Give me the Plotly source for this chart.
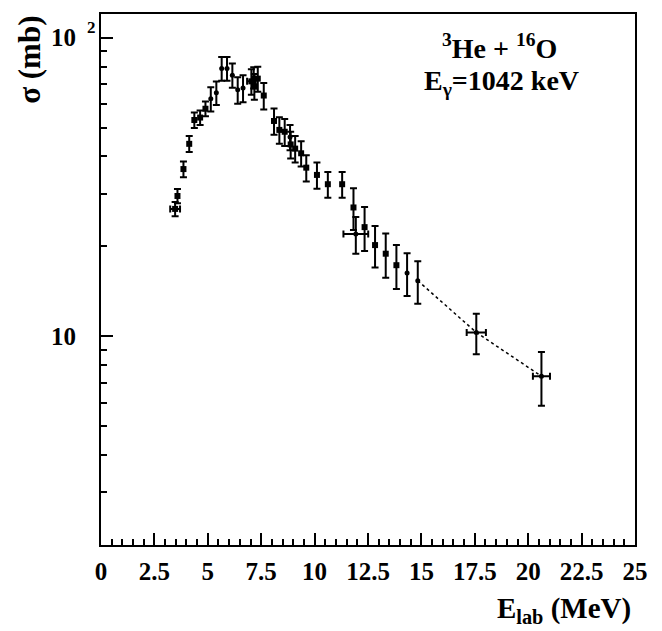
import plotly.graph_objects as go

# ---- data ----
# filled squares, no visible horizontal error
sq_E = [3.58, 3.86, 4.13, 4.37, 4.64, 4.89, 7.18, 7.34, 7.62, 8.10, 8.35, 8.60,
        8.88, 9.09, 9.37, 9.61, 10.11, 10.62, 11.29, 11.82, 12.34, 12.83, 13.33, 13.83]
sq_sigma = [29.5, 36.3, 44.1, 53.0, 54.0, 57.8, 68.7, 72.9, 64.0, 52.6, 49.1, 48.4,
            43.9, 42.5, 41.0, 36.7, 34.7, 32.3, 32.3, 27.0, 23.2, 20.2, 18.9, 17.3]
sq_err = [1.6, 2.2, 2.7, 3.2, 3.0, 3.3, 6.8, 7.0, 6.5, 5.3, 5.0, 5.0,
          4.5, 4.3, 4.0, 3.7, 3.5, 3.2, 3.2, 4.3, 3.9, 3.2, 3.2, 2.9]

# filled squares with horizontal error
sqx_E = [3.47, 7.04]
sqx_sigma = [26.7, 71.4]
sqx_err = [1.45, 7.0]
sqx_xerr = [0.23, 0.20]

# small dots, no visible horizontal error
dot_E = [5.14, 5.40, 5.65, 5.90, 6.15, 6.40, 6.65, 7.15, 8.85, 14.33, 14.83]
dot_sigma = [62.4, 65.4, 78.9, 78.9, 74.9, 66.9, 67.8, 73.6, 46.5, 16.3, 15.35]
dot_err = [5.8, 5.9, 7.2, 7.2, 7.0, 6.8, 7.0, 6.0, 4.5, 2.65, 2.5]

# small dots with horizontal error
dotx_E = [11.93, 17.57, 20.62]
dotx_sigma = [22.0, 10.3, 7.35]
dotx_err = [3.1, 1.6, 1.5]
dotx_xerr = [0.58, 0.45, 0.40]

x_tickvals = [0, 2.5, 5, 7.5, 10, 12.5, 15, 17.5, 20, 22.5, 25]
x_ticktext = ["0", "2.5", "5", "7.5", "10", "12.5", "15", "17.5", "20", "22.5", "25"]
y_tickvals = [10, 100]
y_ticktext = ["10", "10"]
y_minor = [3, 4, 5, 6, 7, 8, 9, 20, 30, 40, 50, 60, 70, 80, 90]

# dotted trend through the last three points
trend_E = [dot_E[-1]] + dotx_E[1:]
trend_sigma = [dot_sigma[-1]] + dotx_sigma[1:]

FONT = "Liberation Serif"
OFF = 8  # page body margin
W, H = 654, 623
L, R, T, B = 93, 27, 4, 86
pw, ph = W - L - R, H - T - B


def px(xp):
    return (xp - OFF - L) / pw


def py(yp):
    return (OFF + T + ph - yp) / ph


fig = go.Figure()
fig.add_trace(go.Scatter(x=trend_E, y=trend_sigma, mode="lines",
                         line=dict(color="black", width=1.5, dash="dot"),
                         hoverinfo="skip", showlegend=False))

eb = dict(type="data", color="black", thickness=2, width=3.5)

fig.add_trace(go.Scatter(x=sq_E, y=sq_sigma, mode="markers",
                         marker=dict(symbol="square", size=6, color="black"),
                         error_y=dict(array=sq_err, **eb), showlegend=False))
fig.add_trace(go.Scatter(x=sqx_E, y=sqx_sigma, mode="markers",
                         marker=dict(symbol="square", size=6, color="black"),
                         error_y=dict(array=sqx_err, **eb),
                         error_x=dict(array=sqx_xerr, **eb), showlegend=False))
fig.add_trace(go.Scatter(x=dot_E, y=dot_sigma, mode="markers",
                         marker=dict(symbol="circle", size=5, color="black"),
                         error_y=dict(array=dot_err, **eb), showlegend=False))
fig.add_trace(go.Scatter(x=dotx_E, y=dotx_sigma, mode="markers",
                         marker=dict(symbol="circle", size=5, color="black"),
                         error_y=dict(array=dotx_err, **eb),
                         error_x=dict(array=dotx_xerr, **eb), showlegend=False))

tickfont = dict(family=FONT, size=25, color="black", weight="bold")

fig.update_layout(
    width=W, height=H,
    margin=dict(l=L, r=R, t=T, b=B, pad=0),
    paper_bgcolor="white", plot_bgcolor="white",
    font=dict(family=FONT, color="black"),
    xaxis=dict(range=[0, 25], tickmode="array", tickvals=x_tickvals,
               ticktext=["<b>%s</b>" % t for t in x_ticktext],
               ticks="inside", ticklen=12, tickwidth=1.5, tickcolor="black",
               minor=dict(dtick=0.5, tick0=0, ticks="inside", ticklen=6, tickwidth=1.5, tickcolor="black"),
               showline=True, linecolor="black", linewidth=2, mirror=True,
               showgrid=False, zeroline=False, tickfont=tickfont, ticklabelstandoff=3),
    yaxis=dict(type="log", range=[0.30103, 2.0792], tickmode="array",
               tickvals=y_tickvals, ticktext=["<b>%s</b>" % t for t in y_ticktext],
               ticks="inside", ticklen=12, tickwidth=1.5, tickcolor="black",
               minor=dict(tickmode="array", tickvals=y_minor, ticks="inside", ticklen=6,
                          tickwidth=1.5, tickcolor="black"),
               showline=True, linecolor="black", linewidth=2, mirror=True,
               showgrid=False, zeroline=False, tickfont=tickfont, ticklabelstandoff=18),
)

bold = dict(family=FONT, color="black", weight="bold")
fig.add_annotation(text="2", xref="paper", yref="paper", x=px(91), y=py(26),
                   showarrow=False, xanchor="center", yanchor="middle", font=dict(size=17, **bold))
fig.add_annotation(text="σ (mb)", xref="paper", yref="paper", x=px(30), y=py(58),
                   showarrow=False, textangle=-90, xanchor="center", yanchor="middle",
                   font=dict(size=31, **bold))
fig.add_annotation(text="E<sub>lab</sub> (MeV)", xref="paper", yref="paper", x=px(633), y=py(610),
                   showarrow=False, xanchor="right", yanchor="middle", font=dict(size=29, **bold))
fig.add_annotation(text="<sup>3</sup>He + <sup>16</sup>O", xref="paper", yref="paper",
                   x=px(499), y=py(45), showarrow=False, xanchor="center", yanchor="middle",
                   font=dict(size=28, **bold))
fig.add_annotation(text="E<sub>γ</sub>=1042 keV", xref="paper", yref="paper",
                   x=px(501), y=py(81), showarrow=False, xanchor="center", yanchor="middle",
                   font=dict(size=28, **bold))

fig.write_html("out.html")
